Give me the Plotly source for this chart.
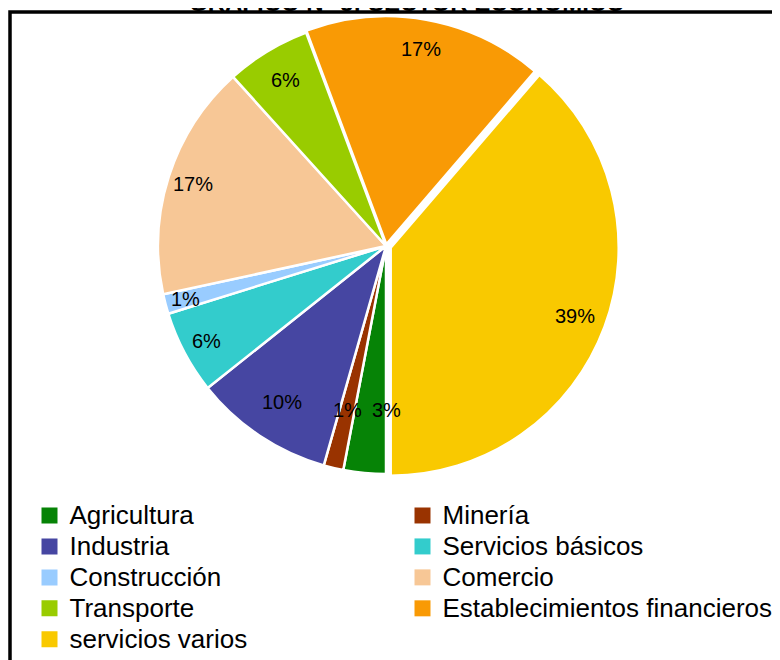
import math
import plotly.graph_objects as go

categories = ["Agricultura", "Minería", "Industria", "Servicios básicos", "Construcción",
              "Comercio", "Transporte", "Establecimientos financieros", "servicios varios"]
values = [3.0, 1.4, 9.9, 5.9, 1.4, 16.7, 6.0, 17.0, 38.7]
title_text = "GRÁFICO N° 5: SECTOR ECONÓMICO"

# styles
colors = ["#068306", "#993300", "#4646a2", "#33CCCC", "#99CCFF",
          "#F7C796", "#99CC00", "#F99A05", "#F9C900"]
pulls = [0, 0, 0, 0, 0, 0, 0, 0.008, 0.022]
label_r = [0.72, 0.74, 0.82, 0.89, 0.91, 0.89, 0.85, 0.87, 0.86]   # label radius (fraction of r)
label_frac = [0.0, 0.5, 0.5, 0.5, 0.5, 0.5, 0.5, 0.5, 0.5]         # position within slice

W, H = 780, 660
OFF = 8  # page body margin of the browser
FONT = "Liberation Sans, Arial, sans-serif"


def fx(sx):
    return (sx - OFF) / W


def fy(sy):
    return 1 - (sy - OFF) / H


# pie geometry (screen pixels)
cx, cy, r = 386, 246, 228
half = r * (1 + max(pulls))

fig = go.Figure()
fig.add_trace(go.Pie(
    labels=categories, values=values, sort=False, direction="clockwise", rotation=180,
    marker=dict(colors=colors, line=dict(color="white", width=2.5)),
    pull=pulls, textinfo="none",
    showlegend=False, hoverinfo="label+percent",
    domain=dict(x=[fx(cx - half), fx(cx + half)], y=[fy(cy + half), fy(cy - half)]),
))

# percentage labels positioned from the data (cumulative angles)
total = sum(values)
annotations = []
cum = 0.0
for v, lr, lf, p in zip(values, label_r, label_frac, pulls):
    theta = math.radians(180 + (cum + v * lf) / total * 360)
    mid = math.radians(180 + (cum + v / 2) / total * 360)
    px = cx + lr * r * math.sin(theta) + p * r * math.sin(mid)
    py = cy - lr * r * math.cos(theta) - p * r * math.cos(mid)
    annotations.append(dict(text=f"{v / total:.0%}", xref="paper", yref="paper",
                            x=fx(px), y=fy(py), xanchor="center", yanchor="middle",
                            showarrow=False, font=dict(family=FONT, size=20, color="black")))
    cum += v

for name, col in zip(categories, colors):
    fig.add_trace(go.Scatter(x=[None], y=[None], mode="markers",
                             name=f'<span style="font-size:26px">{name}</span>',
                             marker=dict(symbol="square", size=17, color=col)))

annotations.append(dict(text="<b>" + title_text + "</b>", xref="paper", yref="paper",
                        x=fx(407), y=fy(2), xanchor="center", yanchor="middle",
                        showarrow=False, font=dict(family=FONT, size=24, color="black")))

fig.update_layout(
    width=W, height=H, margin=dict(l=0, r=0, t=0, b=0, autoexpand=False),
    paper_bgcolor="white", plot_bgcolor="white",
    xaxis=dict(visible=False), yaxis=dict(visible=False),
    legend=dict(orientation="h", x=fx(29.5), y=fy(495), xanchor="left", yanchor="top",
                entrywidth=328, entrywidthmode="pixels", itemsizing="trace",
                font=dict(family=FONT, size=21.5, color="black"),
                bgcolor="rgba(0,0,0,0)", traceorder="normal"),
    shapes=[dict(type="rect", xref="paper", yref="paper",
                 x0=fx(10), x1=1.05, y0=-0.05, y1=fy(12),
                 line=dict(color="black", width=3.5), layer="below")],
    annotations=annotations,
)

fig.write_html("out.html")
